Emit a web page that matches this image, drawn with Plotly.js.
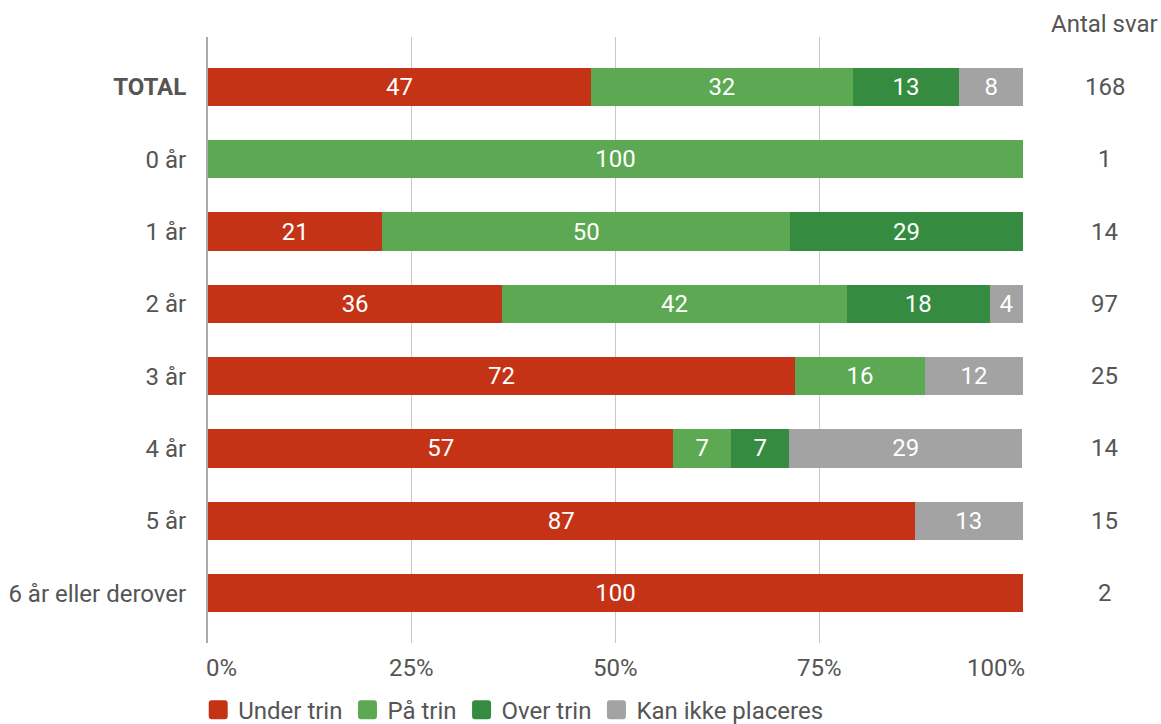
<!DOCTYPE html>
<html>
<head>
<meta charset="utf-8">
<script src="https://cdn.plot.ly/plotly-3.0.1.min.js"></script>
<style>html,body{margin:0;padding:0;background:#fff;}#chart{width:1161px;height:724px;}</style>
</head>
<body>
<div id="chart"></div>
<script>
const categories = ['<b>TOTAL</b>', '0 år', '1 år', '2 år', '3 år', '4 år', '5 år', '6 år eller derover'];
const underTrin = [47.0, null, 21.4, 36.1, 72, 57.1, 86.7, 100];
const paaTrin   = [32.1, 100, 50.0, 42.3, 16, 7.1, null, null];
const overTrin  = [13.1, null, 28.6, 17.5, null, 7.1, null, null];
const kanIkke   = [7.8, null, null, 4.1, 12, 28.6, 13.3, null];
const antalSvar = [168, 1, 14, 97, 25, 14, 15, 2];
const seriesNames = ['Under trin', 'På trin', 'Over trin', 'Kan ikke placeres'];
const colors = ['#C53317', '#5DA852', '#358C40', '#A3A3A3'];
const xTicks = [0, 25, 50, 75, 100];
const xTickLabels = ['0%', '25%', '50%', '75%', '100%'];

const FS = 24;
const seriesValues = [underTrin, paaTrin, overTrin, kanIkke];
const traces = seriesValues.map((vals, i) => ({
  type: 'bar',
  orientation: 'h',
  name: seriesNames[i],
  y: categories,
  x: vals,
  marker: {color: colors[i]},
  texttemplate: '%{x:.0f}',
  textposition: 'inside',
  insidetextanchor: 'middle',
  textfont: {color: '#ffffff', size: FS, family: 'Roboto'},
  constraintext: 'none',
  hoverinfo: 'skip'
}));

const txtFont = {size: FS, color: '#555555', family: 'Roboto'};
const annotations = [{
  xref: 'paper', yref: 'paper', x: 1.0994, xanchor: 'center', y: 1, yshift: 13, yanchor: 'middle',
  text: 'Antal svar', showarrow: false, font: txtFont
}];
antalSvar.forEach((n, i) => {
  annotations.push({
    xref: 'paper', yref: 'y', x: 1.1006, xanchor: 'center', y: categories[i], text: String(n),
    showarrow: false, font: txtFont
  });
});
// x tick labels: end labels kept inside the plot width, as in the reference
xTicks.forEach((v, i) => {
  const last = i === xTicks.length - 1;
  annotations.push({
    xref: 'x', yref: 'paper', x: v, y: 0, yshift: -25, yanchor: 'middle',
    xanchor: i === 0 ? 'left' : (last ? 'right' : 'center'),
    xshift: i === 0 ? -4 : (last ? 4 : 0),
    text: xTickLabels[i], showarrow: false, font: txtFont
  });
});

const layout = {
  width: 1161, height: 724,
  margin: {l: 208, r: 138, t: 37, b: 81, autoexpand: false},
  paper_bgcolor: '#ffffff', plot_bgcolor: '#ffffff',
  barmode: 'stack',
  bargap: 0.473,
  font: {family: 'Roboto', size: FS, color: '#555555'},
  showlegend: true,
  legend: {
    orientation: 'h', x: -0.012, xanchor: 'left', y: -0.111, yanchor: 'middle',
    font: txtFont,
    traceorder: 'normal', itemclick: false, itemwidth: 30, tracegroupgap: 0
  },
  xaxis: {
    range: [0, 100], tickvals: xTicks, showticklabels: false,
    showgrid: true, gridcolor: '#c8c8c8', gridwidth: 1, zeroline: false,
    showline: false, ticks: '', fixedrange: true, automargin: false
  },
  yaxis: {
    type: 'category', categoryorder: 'array', categoryarray: categories,
    range: [7.69, -0.69], autorange: false,
    showline: true, linecolor: '#aaaaaa', linewidth: 2,
    showgrid: false, zeroline: false,
    ticks: 'outside', ticklen: 15, tickcolor: 'rgba(0,0,0,0)',
    tickfont: txtFont, fixedrange: true, automargin: false
  },
  annotations: annotations
};

Plotly.newPlot('chart', traces, layout, {displayModeBar: false, staticPlot: true}).then(gd => {
  // enlarge legend swatches to rounded squares like the reference
  const rounded = 'M-6.5,-9.5H6.5A3,3 0 0 1 9.5,-6.5V6.5A3,3 0 0 1 6.5,9.5H-6.5A3,3 0 0 1 -9.5,6.5V-6.5A3,3 0 0 1 -6.5,-9.5Z';
  gd.querySelectorAll('.legend .legendpoints path').forEach(p => {
    p.setAttribute('d', rounded);
    p.style.strokeWidth = '0';
  });
});
</script>
</body>
</html>
